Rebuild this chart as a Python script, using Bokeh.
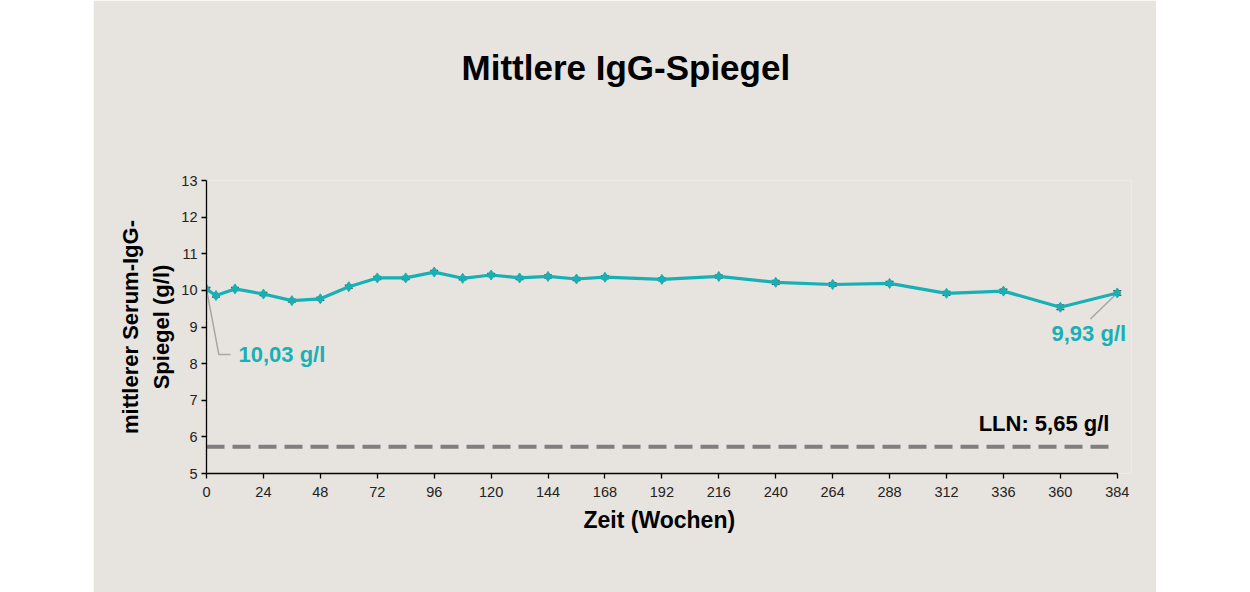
from bokeh.plotting import figure
from bokeh.models import Range1d, FixedTicker, Label, Whisker, TeeHead, ColumnDataSource, Spacer, Title
from bokeh.layouts import row
from bokeh.embed import file_html
from bokeh.resources import INLINE

# ---- data ----
title_text = "Mittlere IgG-Spiegel"
x_title = "Zeit (Wochen)"
y_title_lines = ["mittlerer Serum-IgG-", "Spiegel (g/l)"]
weeks = [0, 4, 12, 24, 36, 48, 60, 72, 84, 96, 108, 120, 132, 144, 156, 168,
         192, 216, 240, 264, 288, 312, 336, 360, 384]
mean_igg = [10.03, 9.86, 10.04, 9.90, 9.72, 9.77, 10.10, 10.34, 10.34, 10.50,
            10.33, 10.42, 10.34, 10.38, 10.31, 10.36, 10.30, 10.38, 10.22,
            10.16, 10.19, 9.92, 9.98, 9.54, 9.93]
sem = [0.05, 0.04, 0.04, 0.04, 0.04, 0.04, 0.04, 0.04, 0.04, 0.04, 0.04, 0.04,
       0.04, 0.04, 0.04, 0.04, 0.04, 0.04, 0.05, 0.05, 0.05, 0.05, 0.05, 0.06, 0.06]
x_ticks = [0, 24, 48, 72, 96, 120, 144, 168, 192, 216, 240, 264, 288, 312, 336, 360, 384]
y_ticks = [5, 6, 7, 8, 9, 10, 11, 12, 13]
lln_value = 5.73
lln_x = [0, 381]
start_label = "10,03 g/l"
end_label = "9,93 g/l"
lln_label = "LLN: 5,65 g/l"

# ---- style ----
BG = "#e7e3df"
TEAL = "#17b0b5"
FONT = "Liberation Sans"

p = figure(width=1063, height=592, output_backend="svg", toolbar_location=None,
           x_range=Range1d(0, 390), y_range=Range1d(5, 13),
           min_border_left=113, min_border_right=25, min_border_top=180, min_border_bottom=119,
           background_fill_color=BG, border_fill_color=BG)
p.title.visible = False
p.outline_line_color = None
p.xgrid.grid_line_color = None
p.ygrid.grid_line_color = None

for ax in (p.xaxis[0], p.yaxis[0]):
    ax.axis_line_color = "#000000"
    ax.axis_line_width = 1.3
    ax.major_tick_line_color = "#000000"
    ax.major_tick_line_width = 1.3
    ax.major_tick_out = 5
    ax.major_tick_in = 0
    ax.minor_tick_line_color = None
    ax.major_label_text_font = FONT
    ax.major_label_text_font_size = "14.5px"
    ax.major_label_text_color = "#222222"
p.xaxis.ticker = FixedTicker(ticks=x_ticks)
p.yaxis.ticker = FixedTicker(ticks=y_ticks)
p.xaxis.bounds = (0, 384)
p.xaxis.major_label_standoff = 8
p.yaxis.major_label_standoff = 4

# titles: a blank spacer title keeps the main title well above the plot
p.add_layout(Title(text=" ", text_font_size="1px", standoff=86, text_color=BG), "above")
p.add_layout(Title(text=title_text, align="left", offset=255, standoff=10, text_font=FONT,
                   text_font_style="bold", text_font_size="35px", text_color="#000000"), "above")

p.add_layout(Title(text=x_title, align="left", offset=377, text_font=FONT,
                   text_font_style="bold", text_font_size="23px", text_color="#000000"), "below")
p.add_layout(Title(text=y_title_lines[1], align="center", offset=-14, text_font=FONT, standoff=9,
                   text_font_style="bold", text_font_size="22px", text_color="#000000"), "left")
p.add_layout(Title(text=y_title_lines[0], align="center", offset=-14, text_font=FONT, standoff=0,
                   text_font_style="bold", text_font_size="22px", text_color="#000000"), "left")

# LLN line
p.line(lln_x, [lln_value, lln_value], line_color="#7f7f7f", line_width=4, line_dash="18 8")

src = ColumnDataSource(dict(x=weeks, y=mean_igg,
                            upper=[m + s for m, s in zip(mean_igg, sem)],
                            lower=[m - s for m, s in zip(mean_igg, sem)]))

# leader lines
p.line([weeks[0], 5.2, 10.1], [mean_igg[0], 8.25, 8.25], line_color="#a6a6a6", line_width=1.5)
p.line([weeks[-1], 372.7], [mean_igg[-1], 9.22], line_color="#a6a6a6", line_width=1.5)

p.add_layout(Whisker(source=src, base="x", upper="upper", lower="lower",
                     line_color="#555555", line_width=1,
                     upper_head=TeeHead(size=8, line_color="#555555", line_width=1.5),
                     lower_head=TeeHead(size=8, line_color="#555555", line_width=1.5)))
p.line("x", "y", source=src, line_color=TEAL, line_width=3.2)
p.scatter("x", "y", source=src, marker="diamond", size=10, fill_color=TEAL, line_color=TEAL)

def lab(text, x, y, color="#000000", align="center"):
    p.add_layout(Label(x=x, y=y, text=text, text_font=FONT, text_font_style="bold",
                       text_font_size="22px", text_color=color, text_align=align,
                       text_baseline="middle"))

lab(start_label, 13.5, 8.25, color=TEAL, align="left")
lab(end_label, 372.0, 8.82, color=TEAL)
lab(lln_label, 380.7, 6.37, align="right")

layout = row(Spacer(width=93, height=592), p)
open("out.html", "w").write(file_html(layout, INLINE))
